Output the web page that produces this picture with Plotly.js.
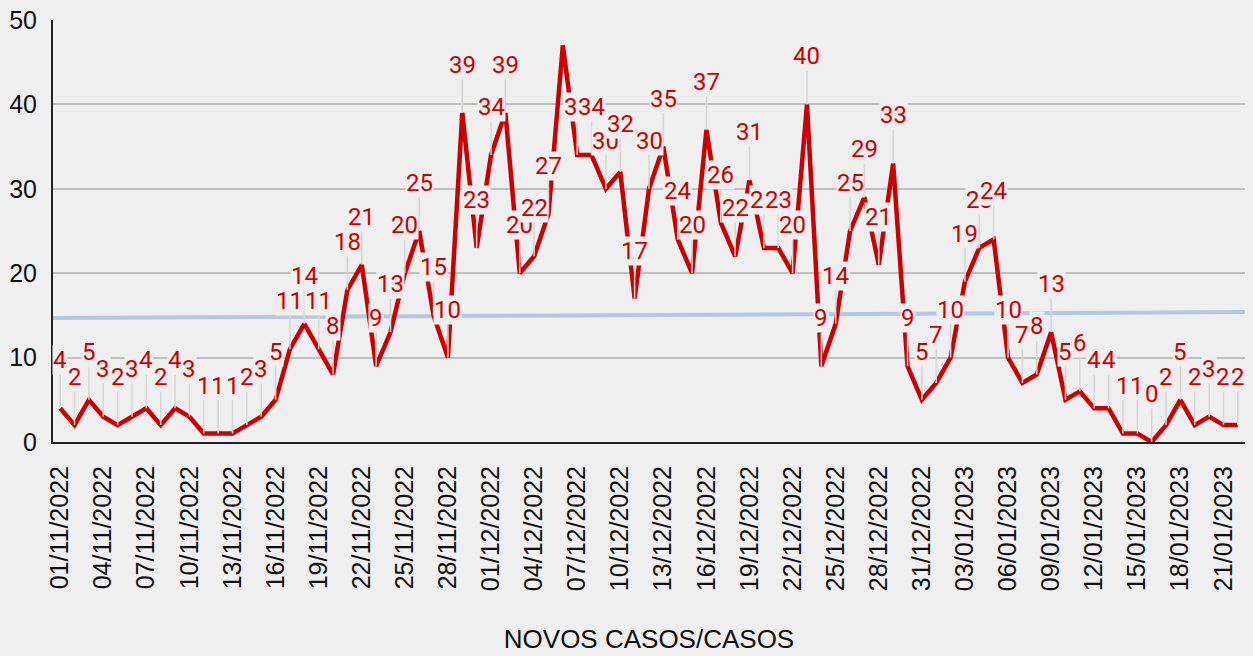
<!DOCTYPE html>
<html>
<head>
<meta charset="utf-8">
<script src="https://cdn.plot.ly/plotly-3.0.1.min.js"></script>
<style>
html,body{margin:0;padding:0;background:#efefef;}
#chart{width:1253px;height:656px;}
</style>
</head>
<body>
<div id="chart"></div>
<script>
// Dates (categories)
const dates = [
 "01/11/2022","02/11/2022","03/11/2022","04/11/2022","05/11/2022","06/11/2022","07/11/2022","08/11/2022","09/11/2022","10/11/2022",
 "11/11/2022","12/11/2022","13/11/2022","14/11/2022","15/11/2022","16/11/2022","17/11/2022","18/11/2022","19/11/2022","20/11/2022",
 "21/11/2022","22/11/2022","23/11/2022","24/11/2022","25/11/2022","26/11/2022","27/11/2022","28/11/2022","29/11/2022","30/11/2022",
 "01/12/2022","02/12/2022","03/12/2022","04/12/2022","05/12/2022","06/12/2022","07/12/2022","08/12/2022","09/12/2022","10/12/2022",
 "11/12/2022","12/12/2022","13/12/2022","14/12/2022","15/12/2022","16/12/2022","17/12/2022","18/12/2022","19/12/2022","20/12/2022",
 "21/12/2022","22/12/2022","23/12/2022","24/12/2022","25/12/2022","26/12/2022","27/12/2022","28/12/2022","29/12/2022","30/12/2022",
 "31/12/2022","01/01/2023","02/01/2023","03/01/2023","04/01/2023","05/01/2023","06/01/2023","07/01/2023","08/01/2023","09/01/2023",
 "10/01/2023","11/01/2023","12/01/2023","13/01/2023","14/01/2023","15/01/2023","16/01/2023","17/01/2023","18/01/2023","19/01/2023",
 "20/01/2023","21/01/2023","22/01/2023"
];

// New cases per day
const novosCasos = [
 4,2,5,3,2,3,4,2,4,3,
 1,1,1,2,3,5,11,14,11,8,
 18,21,9,13,20,25,15,10,39,23,
 34,39,20,22,27,47,34,34,30,32,
 17,30,35,24,20,37,26,22,31,23,
 23,20,40,9,14,25,29,21,33,9,
 5,7,10,19,23,24,10,7,8,13,
 5,6,4,4,1,1,0,2,5,2,
 3,2,2
];

// Labels not shown in the reference
const hiddenLabelDates = ["06/12/2022"];

// Trend line end values (first edge, last edge)
const trendValues = [14.7, 15.4];

// Tick labels every third day
const tickLabels = ["01/11/2022","04/11/2022","07/11/2022","10/11/2022","13/11/2022","16/11/2022","19/11/2022",
 "22/11/2022","25/11/2022","28/11/2022","01/12/2022","04/12/2022","07/12/2022","10/12/2022","13/12/2022",
 "16/12/2022","19/12/2022","22/12/2022","25/12/2022","28/12/2022","31/12/2022","03/01/2023","06/01/2023",
 "09/01/2023","12/01/2023","15/01/2023","18/01/2023","21/01/2023"];

const xIdx = dates.map((d, i) => i);
const tickVals = tickLabels.map(t => dates.indexOf(t));

const traces = [
  {
    x: [-0.5, dates.length - 0.5],
    y: trendValues,
    mode: 'lines',
    line: {color: '#b4c7e4', width: 4},
    hoverinfo: 'skip',
    showlegend: false
  },
  {
    x: xIdx,
    y: novosCasos,
    mode: 'lines',
    line: {color: '#cc0000', width: 4.5},
    showlegend: false
  }
];

const annotations = [];
dates.forEach((d, i) => {
  if (hiddenLabelDates.includes(d)) return;
  annotations.push({
    x: i, y: novosCasos[i], xref: 'x', yref: 'y',
    text: String(novosCasos[i]),
    showarrow: true, arrowhead: 0, arrowwidth: 1.5, arrowcolor: '#d6d6d6',
    ax: 0, ay: -48, standoff: 0,
    font: {family: 'Roboto, sans-serif', size: 24, color: '#cc0000'},
    bgcolor: '#efefef', borderpad: 0
  });
});

const layout = {
  width: 1253, height: 656,
  paper_bgcolor: '#efefef', plot_bgcolor: '#efefef',
  margin: {l: 53, r: 8, t: 20, b: 214},
  showlegend: false,
  font: {family: '"Liberation Sans", Arial, sans-serif', color: '#111'},
  xaxis: {
    range: [-0.5, dates.length - 0.5],
    tickmode: 'array', tickvals: tickVals, ticktext: tickLabels,
    tickangle: -90,
    tickfont: {size: 25, color: '#111'},
    ticks: '', ticklabelstandoff: 12,
    showgrid: false, zeroline: false,
    showline: true, linecolor: '#222', linewidth: 2,
    title: {text: 'NOVOS CASOS/CASOS', font: {size: 26, color: '#111'}, standoff: 40},
    automargin: false
  },
  yaxis: {
    range: [0, 50], dtick: 10,
    tickfont: {size: 25, color: '#111'},
    ticks: '', ticklabelstandoff: 9,
    showgrid: true, gridcolor: '#bfbfbf', gridwidth: 2,
    zeroline: false,
    showline: true, linecolor: '#222', linewidth: 2,
    automargin: false
  },
  annotations: annotations
};

Plotly.newPlot('chart', traces, layout, {displayModeBar: false, staticPlot: true});
</script>
</body>
</html>
